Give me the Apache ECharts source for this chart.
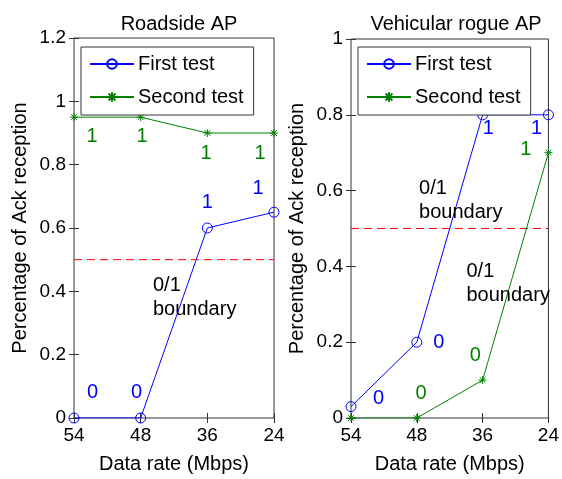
<!DOCTYPE html>
<html>
<head>
<meta charset="utf-8">
<script src="https://cdn.jsdelivr.net/npm/echarts@6/dist/echarts.min.js"></script>
<style>
  html, body { margin: 0; padding: 0; background: #fff; }
  #chart { width: 562px; height: 479px; }
</style>
</head>
<body>
<div id="chart"></div>
<script>
// data rates shown on the x axis, left to right
const rates = ['54', '48', '36', '24']

// Roadside AP
const roadFirst = [0, 0, 0.6, 0.65]
const roadSecond = [0.95, 0.95, 0.9, 0.9]
// Vehicular rogue AP
const vehFirst = [0.03, 0.2, 0.8, 0.8]
const vehSecond = [0, 0, 0.1, 0.7]

const boundary = 0.5

// text notes, [x index, y value, text]
const roadNotesFirst = [[0.28, 0.08, '0'], [0.94, 0.08, '0'], [2.0, 0.68, '1'], [2.76, 0.725, '1']]
const roadNotesSecond = [[0.27, 0.89, '1'], [1.02, 0.89, '1'], [1.98, 0.835, '1'], [2.79, 0.835, '1']]
const roadNotesText = [[1.185, 0.38, '0/1\nboundary']]
const vehNotesFirst = [[0.42, 0.052, '0'], [1.335, 0.2, '0'], [2.085, 0.763, '1'], [2.82, 0.763, '1']]
const vehNotesSecond = [[1.065, 0.065, '0'], [1.89, 0.164, '0'], [2.655, 0.708, '1']]
const vehNotesText = [[1.035, 0.575, '0/1\nboundary'], [1.755, 0.355, '0/1\nboundary']]

const BLUE = '#0000ff'
const GREEN = '#008000'
const FONT = 'Liberation Sans, Arial, sans-serif'
const STAR = 'path://M0,-1L0,1M-1,0L1,0M-0.72,-0.72L0.72,0.72M-0.72,0.72L0.72,-0.72'

const toPoints = (vals) => vals.map((v, i) => [i, v])

const chart = echarts.init(document.getElementById('chart'))

function xAxes(gridIndex) {
    return [
        {
            type: 'value', gridIndex, min: 0, max: 3, interval: 1,
            name: 'Data rate (Mbps)', nameLocation: 'middle', nameGap: 36,
            nameTextStyle: { fontSize: 20, color: '#000', fontFamily: FONT },
            axisLine: { show: false },
            axisTick: { inside: true, length: 5, lineStyle: { color: '#333' } },
            axisLabel: { fontSize: 19, color: '#000', fontFamily: FONT, margin: 8, formatter: (v) => rates[v] },
            splitLine: { show: false }
        },
        {
            type: 'value', gridIndex, min: 0, max: 3, interval: 1, position: 'top',
            axisLine: { show: false },
            axisTick: { inside: true, length: 5, lineStyle: { color: '#333' } },
            axisLabel: { show: false },
            splitLine: { show: false }
        }
    ]
}

function yAxes(gridIndex, max) {
    return [
        {
            type: 'value', gridIndex, min: 0, max, interval: 0.2,
            name: 'Percentage of Ack reception', nameLocation: 'middle', nameGap: 44,
            nameTextStyle: { fontSize: 20, color: '#000', fontFamily: FONT },
            axisLine: { show: false },
            axisTick: { inside: true, length: 5, lineStyle: { color: '#333' } },
            axisLabel: { fontSize: 19, color: '#000', fontFamily: FONT, margin: 8,
                formatter: (v) => String(Math.round(v * 10) / 10) },
            splitLine: { show: false }
        },
        {
            type: 'value', gridIndex, min: 0, max, interval: 0.2, position: 'right',
            axisLine: { show: false },
            axisTick: { inside: true, length: 5, lineStyle: { color: '#333' } },
            axisLabel: { show: false },
            splitLine: { show: false }
        }
    ]
}

function lineSeries(name, vals, color, symbol, axisBase) {
    return {
        name, type: 'line', data: toPoints(vals),
        xAxisIndex: axisBase, yAxisIndex: axisBase,
        symbol, symbolSize: symbol === 'circle' ? 10 : 8, showAllSymbol: true,
        lineStyle: { color, width: 1 },
        itemStyle: { color: 'none', borderColor: color, borderWidth: 1 },
        emphasis: { disabled: true },
        animation: false, z: 3
    }
}

function noteSeries(notes, color, axisBase, align) {
    return {
        type: 'scatter', data: notes, symbolSize: 0, silent: true,
        xAxisIndex: axisBase, yAxisIndex: axisBase,
        itemStyle: { opacity: 1 },
        label: {
            show: true, position: 'inside', formatter: (p) => p.data[2],
            color, fontSize: 20, fontFamily: FONT, lineHeight: 24,
            textBorderWidth: 0, opacity: 1,
            align: align || 'center', verticalAlign: 'middle'
        },
        animation: false, z: 4
    }
}

function boundarySeries(axisBase) {
    return {
        type: 'line', data: [[0, boundary], [3, boundary]], symbol: 'none', silent: true,
        xAxisIndex: axisBase, yAxisIndex: axisBase,
        lineStyle: { color: '#ff0000', width: 1, type: [8, 5] },
        animation: false, z: 2
    }
}

function legendFor(left, top) {
    return {
        orient: 'vertical', left, top,
        data: ['First test', 'Second test'],
        backgroundColor: '#fff', borderColor: '#333', borderWidth: 1,
        padding: [7, 10, 8, 8],
        itemWidth: 44, itemHeight: 12, itemGap: 13,
        textStyle: { fontSize: 20, color: '#000', fontFamily: FONT, padding: [0, 0, 0, -1] },
        selectedMode: false
    }
}

const option = {
    backgroundColor: '#fff',
    animation: false,
    title: [
        { text: 'Roadside AP', left: 174, top: 9, textAlign: 'center',
          textStyle: { fontSize: 20, fontWeight: 'normal', color: '#000', fontFamily: FONT } },
        { text: 'Vehicular rogue AP', left: 451, top: 9, textAlign: 'center',
          textStyle: { fontSize: 20, fontWeight: 'normal', color: '#000', fontFamily: FONT } }
    ],
    legend: [legendFor(81, 47), legendFor(358, 47)],
    grid: [
        { left: 74, top: 38, width: 200, height: 385, show: true, borderColor: '#333', borderWidth: 1, backgroundColor: 'transparent' },
        { left: 351, top: 39, width: 200, height: 384, show: true, borderColor: '#333', borderWidth: 1, backgroundColor: 'transparent' }
    ],
    xAxis: [...xAxes(0), ...xAxes(1)],
    yAxis: [...yAxes(0, 1.2), ...yAxes(1, 1)],
    series: [
        boundarySeries(0),
        lineSeries('First test', roadFirst, BLUE, 'circle', 0),
        lineSeries('Second test', roadSecond, GREEN, STAR, 0),
        noteSeries(roadNotesFirst, BLUE, 0),
        noteSeries(roadNotesSecond, GREEN, 0),
        noteSeries(roadNotesText, '#000', 0, 'left'),
        boundarySeries(2),
        lineSeries('First test', vehFirst, BLUE, 'circle', 2),
        lineSeries('Second test', vehSecond, GREEN, STAR, 2),
        noteSeries(vehNotesFirst, BLUE, 2),
        noteSeries(vehNotesSecond, GREEN, 2),
        noteSeries(vehNotesText, '#000', 2, 'left')
    ]
}

chart.setOption(option)
</script>
</body>
</html>
